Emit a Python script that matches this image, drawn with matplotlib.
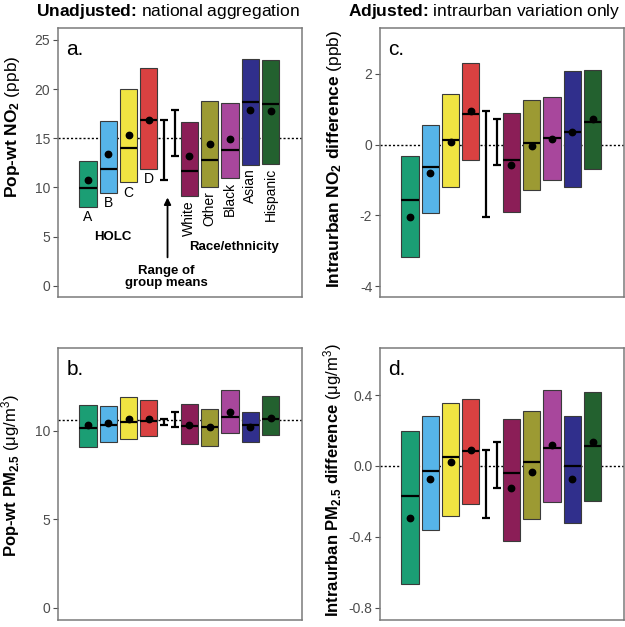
import numpy as np
import matplotlib
matplotlib.use("Agg")
from matplotlib import pyplot as plt

plt.rcParams['font.family'] = ['Liberation Sans', 'DejaVu Sans']
plt.rcParams['mathtext.fontset'] = 'custom'
plt.rcParams['mathtext.rm'] = 'Liberation Sans'
plt.rcParams['mathtext.it'] = 'Liberation Sans:italic'
plt.rcParams['mathtext.bf'] = 'Liberation Sans:bold'
plt.rcParams['axes.unicode_minus'] = False

# grupos y colores
grupos = ['A', 'B', 'C', 'D', 'White', 'Other', 'Black', 'Asian', 'Hispanic']
colores = ['#1b9e74', '#56b4e9', '#f0e442', '#d94141', '#8b1e57',
           '#9c9a33', '#a8479c', '#302f8c', '#23612f']

# a. NO2 sin ajustar (ppb)
no2_bajo = [8.0, 9.42, 10.5, 11.86, 9.08, 10.03, 10.94, 12.3, 12.4]
no2_alto = [12.7, 16.7, 19.99, 22.15, 16.63, 18.8, 18.56, 23.03, 22.9]
no2_mediana = [9.93, 11.86, 13.99, 16.8, 11.69, 12.8, 13.75, 18.67, 18.46]
no2_media = [10.77, 13.38, 15.35, 16.8, 13.14, 14.4, 14.9, 17.85, 17.78]
no2_ref = 15.05

# b. PM2.5 sin ajustar (ug/m3)
pm_bajo = [9.11, 9.38, 9.57, 9.72, 9.25, 9.17, 9.89, 9.36, 9.77]
pm_alto = [11.49, 11.41, 11.94, 11.73, 11.53, 11.22, 12.34, 11.09, 11.98]
pm_mediana = [10.17, 10.36, 10.53, 10.58, 10.28, 10.24, 10.77, 10.36, 10.66]
pm_media = [10.32, 10.43, 10.66, 10.7, 10.36, 10.22, 11.07, 10.23, 10.73]
pm_ref = 10.62

# c. diferencia intraurbana NO2 (ppb)
dno2_bajo = [-3.19, -1.92, -1.21, -0.42, -1.9, -1.27, -1.01, -1.2, -0.68]
dno2_alto = [-0.32, 0.55, 1.42, 2.32, 0.9, 1.26, 1.35, 2.09, 2.11]
dno2_mediana = [-1.57, -0.62, 0.13, 0.88, -0.43, 0.04, 0.2, 0.37, 0.65]
dno2_media = [-2.04, -0.81, 0.085, 0.95, -0.58, -0.05, 0.17, 0.37, 0.74]

# d. diferencia intraurbana PM2.5 (ug/m3)
dpm_bajo = [-0.667, -0.364, -0.284, -0.216, -0.423, -0.298, -0.201, -0.322, -0.197]
dpm_alto = [0.199, 0.284, 0.358, 0.377, 0.265, 0.309, 0.427, 0.284, 0.419]
dpm_mediana = [-0.171, -0.027, 0.051, 0.085, -0.042, 0.023, 0.104, 0.0, 0.11]
dpm_media = [-0.292, -0.076, 0.021, 0.089, -0.127, -0.032, 0.118, -0.076, 0.136]

# posiciones: 4 HOLC, hueco para los rangos, 5 grupos raciales
xpos = np.array([0, 1, 2, 3, 5, 6, 7, 8, 9], dtype=float)
x_rango = [3.77, 4.27]
ancho = 0.84


def panel(ax, bajo, alto, mediana, media, ref, ylim, yticks, letra, fmt=None):
    bajo = np.array(bajo)
    alto = np.array(alto)
    ax.axhline(ref, color='black', lw=1.0, ls=(0, (1.5, 1.5)), zorder=1)
    ax.bar(xpos, alto - bajo, bottom=bajo, width=ancho, color=colores,
           edgecolor='#3a3a3a', linewidth=0.8, zorder=2)
    ax.hlines(mediana, xpos - ancho / 2, xpos + ancho / 2, color='black', lw=1.6, zorder=3)
    ax.plot(xpos, media, 'o', color='black', ms=4.6, zorder=4)
    # rango de medias de cada conjunto
    m = np.array(media)
    for xr, sub in zip(x_rango, [m[:4], m[4:]]):
        lo, hi = sub.min(), sub.max()
        ax.errorbar(xr, (lo + hi) / 2, yerr=(hi - lo) / 2, fmt='none', ecolor='black',
                    elinewidth=1.6, capsize=2.6, capthick=1.6, zorder=3)
    ax.set_xlim(-1.48, 10.55)
    ax.set_ylim(*ylim)
    ax.set_yticks(yticks)
    if fmt:
        ax.set_yticklabels([fmt.format(v) for v in yticks])
    ax.set_xticks([])
    for s in ax.spines.values():
        s.set_color('#7a7a7a')
        s.set_linewidth(1.1)
    ax.tick_params(axis='y', direction='out', length=3.5, width=0.8, color='#4d4d4d',
                   labelcolor='#4d4d4d', labelsize=10, pad=2)
    ax.text(0.035, 0.92, letra, transform=ax.transAxes, fontsize=15, va='center', ha='left')


fig = plt.figure(figsize=(6.25, 6.27), dpi=100)
ax_a = fig.add_axes([0.0928, 0.5263, 0.3904, 0.429])
ax_c = fig.add_axes([0.608, 0.5263, 0.3904, 0.429])
ax_b = fig.add_axes([0.0928, 0.0112, 0.3904, 0.434])
ax_d = fig.add_axes([0.608, 0.0112, 0.3904, 0.434])

panel(ax_a, no2_bajo, no2_alto, no2_mediana, no2_media, no2_ref, (-1.15, 26.2),
      [0, 5, 10, 15, 20, 25], 'a.')
panel(ax_b, pm_bajo, pm_alto, pm_mediana, pm_media, pm_ref, (-0.7, 14.7),
      [0, 5, 10], 'b.')
panel(ax_c, dno2_bajo, dno2_alto, dno2_mediana, dno2_media, 0, (-4.31, 3.3),
      [-4, -2, 0, 2], 'c.')
panel(ax_d, dpm_bajo, dpm_alto, dpm_mediana, dpm_media, 0, (-0.87, 0.667),
      [-0.8, -0.4, 0.0, 0.4], 'd.', fmt='{:.1f}')

ax_a.set_ylabel(r'Pop-wt NO$_\mathbf{2}$ $\mathrm{(ppb)}$', fontsize=12.5, fontweight='bold')
ax_b.set_ylabel(r'Pop-wt PM$_\mathbf{2.5}$ $\mathrm{(\mu g/m^3)}$', fontsize=12,
                fontweight='bold')
ax_c.set_ylabel(r'Intraurban NO$_\mathbf{2}$ difference $\mathrm{(ppb)}$', fontsize=12.5,
                fontweight='bold')
ax_d.set_ylabel(r'Intraurban PM$_\mathbf{2.5}$ difference $\mathrm{(\mu g/m^3)}$', fontsize=12,
                fontweight='bold')
ax_a.yaxis.set_label_coords(-0.146, 0.634)
ax_b.yaxis.set_label_coords(-0.146, 0.53)
ax_c.yaxis.set_label_coords(-0.146, 0.513)
ax_d.yaxis.set_label_coords(-0.146, 0.515)

# etiquetas del panel a
for i in range(4):
    ax_a.text(xpos[i], no2_bajo[i] - 1.05, grupos[i], ha='center', va='center', fontsize=10)
for i in range(4, 9):
    ax_a.text(xpos[i], no2_bajo[i] - 0.4, grupos[i], ha='center', va='top', rotation=90,
              fontsize=10)
ax_a.text(1.2, 5.0, 'HOLC', ha='center', va='center', fontsize=9.5, fontweight='bold')
ax_a.text(7.2, 3.93, 'Race/ethnicity', ha='center', va='center', fontsize=9.5,
          fontweight='bold')
ax_a.text(3.86, 0.85, 'Range of\ngroup means', ha='center', va='center', fontsize=9.5,
          fontweight='bold', linespacing=1.0)
ax_a.annotate('', xy=(3.92, 9.25), xytext=(3.92, 2.6),
              arrowprops=dict(arrowstyle='-|>', color='black', lw=1.3, mutation_scale=10))

fig.text(0.268, 0.981, r'Unadjusted: $\mathrm{national\ aggregation}$', ha='center',
         va='center', fontsize=12.5, fontweight='bold')
fig.text(0.775, 0.981, r'Adjusted: $\mathrm{intraurban\ variation\ only}$', ha='center',
         va='center', fontsize=12.5, fontweight='bold')

fig.savefig('out.png', dpi=100)
